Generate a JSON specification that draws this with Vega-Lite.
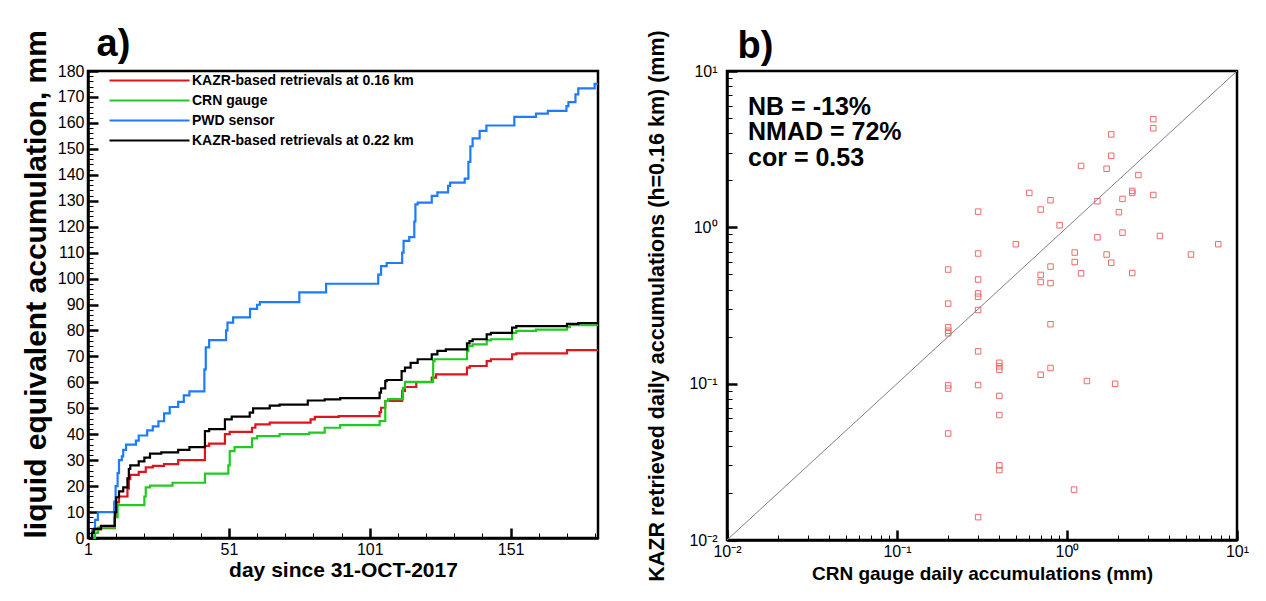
{
  "$schema": "https://vega.github.io/schema/vega-lite/v6.json",
  "background": "white",
  "padding": {"left": 20, "top": 23, "right": 20, "bottom": 5},
  "bounds": "flush",
  "spacing": 129,
  "config": {
    "font": "Liberation Sans",
    "view": {"stroke": "black", "strokeWidth": 2.5},
    "axis": {"domainColor": "black", "domainWidth": 2.5, "tickColor": "black", "grid": false, "labelColor": "black", "titleColor": "black", "labelFont": "Liberation Sans", "titleFont": "Liberation Sans", "labelFontSize": 16, "titleFontWeight": "bold", "labelFlush": false, "labelOverlap": false}
  },
  "hconcat": [
    {
      "width": 510,
      "height": 467,
      "data": {"values": [
        {"s": "KAZR-based retrievals at 0.16 km", "day": 1, "v": 0},
        {"s": "KAZR-based retrievals at 0.16 km", "day": 2.5, "v": 2},
        {"s": "KAZR-based retrievals at 0.16 km", "day": 3, "v": 3.3},
        {"s": "KAZR-based retrievals at 0.16 km", "day": 5.6, "v": 3.8},
        {"s": "KAZR-based retrievals at 0.16 km", "day": 10.5, "v": 8},
        {"s": "KAZR-based retrievals at 0.16 km", "day": 11, "v": 13.7},
        {"s": "KAZR-based retrievals at 0.16 km", "day": 12, "v": 16},
        {"s": "KAZR-based retrievals at 0.16 km", "day": 15, "v": 19},
        {"s": "KAZR-based retrievals at 0.16 km", "day": 15.5, "v": 22.7},
        {"s": "KAZR-based retrievals at 0.16 km", "day": 16, "v": 24.3},
        {"s": "KAZR-based retrievals at 0.16 km", "day": 19, "v": 25.5},
        {"s": "KAZR-based retrievals at 0.16 km", "day": 21.5, "v": 27.2},
        {"s": "KAZR-based retrievals at 0.16 km", "day": 24, "v": 27.8},
        {"s": "KAZR-based retrievals at 0.16 km", "day": 28, "v": 28.5},
        {"s": "KAZR-based retrievals at 0.16 km", "day": 33, "v": 30},
        {"s": "KAZR-based retrievals at 0.16 km", "day": 42.5, "v": 35.5},
        {"s": "KAZR-based retrievals at 0.16 km", "day": 44, "v": 36.4},
        {"s": "KAZR-based retrievals at 0.16 km", "day": 49.6, "v": 40},
        {"s": "KAZR-based retrievals at 0.16 km", "day": 51.3, "v": 40.9},
        {"s": "KAZR-based retrievals at 0.16 km", "day": 59.2, "v": 42.5},
        {"s": "KAZR-based retrievals at 0.16 km", "day": 60.4, "v": 43.8},
        {"s": "KAZR-based retrievals at 0.16 km", "day": 65.5, "v": 44.5},
        {"s": "KAZR-based retrievals at 0.16 km", "day": 80, "v": 45.7},
        {"s": "KAZR-based retrievals at 0.16 km", "day": 81.5, "v": 46.7},
        {"s": "KAZR-based retrievals at 0.16 km", "day": 90, "v": 47},
        {"s": "KAZR-based retrievals at 0.16 km", "day": 104.5, "v": 48.5},
        {"s": "KAZR-based retrievals at 0.16 km", "day": 105, "v": 50.2},
        {"s": "KAZR-based retrievals at 0.16 km", "day": 106.5, "v": 52.8},
        {"s": "KAZR-based retrievals at 0.16 km", "day": 112.5, "v": 56.7},
        {"s": "KAZR-based retrievals at 0.16 km", "day": 113.5, "v": 58.2},
        {"s": "KAZR-based retrievals at 0.16 km", "day": 117.5, "v": 60.1},
        {"s": "KAZR-based retrievals at 0.16 km", "day": 123, "v": 61.8},
        {"s": "KAZR-based retrievals at 0.16 km", "day": 124.5, "v": 63.1},
        {"s": "KAZR-based retrievals at 0.16 km", "day": 135.5, "v": 65.7},
        {"s": "KAZR-based retrievals at 0.16 km", "day": 136.5, "v": 66.3},
        {"s": "KAZR-based retrievals at 0.16 km", "day": 142.5, "v": 68.2},
        {"s": "KAZR-based retrievals at 0.16 km", "day": 144, "v": 68.9},
        {"s": "KAZR-based retrievals at 0.16 km", "day": 151.5, "v": 70.8},
        {"s": "KAZR-based retrievals at 0.16 km", "day": 153, "v": 71.2},
        {"s": "KAZR-based retrievals at 0.16 km", "day": 171, "v": 72.4},
        {"s": "KAZR-based retrievals at 0.16 km", "day": 182, "v": 72.4},
        {"s": "CRN gauge", "day": 1, "v": 0},
        {"s": "CRN gauge", "day": 3.5, "v": 2},
        {"s": "CRN gauge", "day": 4.5, "v": 4},
        {"s": "CRN gauge", "day": 10.5, "v": 8},
        {"s": "CRN gauge", "day": 11.5, "v": 12.7},
        {"s": "CRN gauge", "day": 21, "v": 16},
        {"s": "CRN gauge", "day": 21.5, "v": 19.5},
        {"s": "CRN gauge", "day": 23, "v": 20.2},
        {"s": "CRN gauge", "day": 31, "v": 21.3},
        {"s": "CRN gauge", "day": 42.5, "v": 24.8},
        {"s": "CRN gauge", "day": 50.8, "v": 28},
        {"s": "CRN gauge", "day": 51.3, "v": 33.5},
        {"s": "CRN gauge", "day": 53, "v": 35},
        {"s": "CRN gauge", "day": 59.2, "v": 38.4},
        {"s": "CRN gauge", "day": 61, "v": 39.3},
        {"s": "CRN gauge", "day": 69, "v": 40},
        {"s": "CRN gauge", "day": 79.5, "v": 40.6},
        {"s": "CRN gauge", "day": 85, "v": 42.5},
        {"s": "CRN gauge", "day": 90.5, "v": 43.5},
        {"s": "CRN gauge", "day": 104.5, "v": 45.1},
        {"s": "CRN gauge", "day": 106.5, "v": 52.8},
        {"s": "CRN gauge", "day": 107.5, "v": 53.5},
        {"s": "CRN gauge", "day": 112.8, "v": 57.9},
        {"s": "CRN gauge", "day": 113.5, "v": 60.2},
        {"s": "CRN gauge", "day": 123.5, "v": 68.2},
        {"s": "CRN gauge", "day": 124, "v": 68.9},
        {"s": "CRN gauge", "day": 135.5, "v": 72},
        {"s": "CRN gauge", "day": 136, "v": 74},
        {"s": "CRN gauge", "day": 137.5, "v": 74.6},
        {"s": "CRN gauge", "day": 142.5, "v": 76.2},
        {"s": "CRN gauge", "day": 144, "v": 76.6},
        {"s": "CRN gauge", "day": 151.5, "v": 79.1},
        {"s": "CRN gauge", "day": 153, "v": 79.8},
        {"s": "CRN gauge", "day": 160, "v": 80.3},
        {"s": "CRN gauge", "day": 171, "v": 81.3},
        {"s": "CRN gauge", "day": 172, "v": 82},
        {"s": "CRN gauge", "day": 182, "v": 82},
        {"s": "PWD sensor", "day": 1, "v": 0},
        {"s": "PWD sensor", "day": 2.5, "v": 3},
        {"s": "PWD sensor", "day": 3.5, "v": 7},
        {"s": "PWD sensor", "day": 4.5, "v": 10},
        {"s": "PWD sensor", "day": 10.3, "v": 14},
        {"s": "PWD sensor", "day": 10.8, "v": 20},
        {"s": "PWD sensor", "day": 11.5, "v": 25},
        {"s": "PWD sensor", "day": 12, "v": 30},
        {"s": "PWD sensor", "day": 13, "v": 31.5},
        {"s": "PWD sensor", "day": 13.5, "v": 34},
        {"s": "PWD sensor", "day": 14.5, "v": 36},
        {"s": "PWD sensor", "day": 18, "v": 37.5},
        {"s": "PWD sensor", "day": 19, "v": 39.5},
        {"s": "PWD sensor", "day": 22, "v": 41.5},
        {"s": "PWD sensor", "day": 24, "v": 43},
        {"s": "PWD sensor", "day": 26, "v": 45},
        {"s": "PWD sensor", "day": 28, "v": 48},
        {"s": "PWD sensor", "day": 30, "v": 50.5},
        {"s": "PWD sensor", "day": 33, "v": 52.5},
        {"s": "PWD sensor", "day": 35, "v": 55},
        {"s": "PWD sensor", "day": 37, "v": 56.5},
        {"s": "PWD sensor", "day": 42.3, "v": 65},
        {"s": "PWD sensor", "day": 42.8, "v": 73.5},
        {"s": "PWD sensor", "day": 44, "v": 76.3},
        {"s": "PWD sensor", "day": 50, "v": 80},
        {"s": "PWD sensor", "day": 50.5, "v": 83},
        {"s": "PWD sensor", "day": 52.5, "v": 85},
        {"s": "PWD sensor", "day": 58.5, "v": 88.3},
        {"s": "PWD sensor", "day": 61, "v": 89.9},
        {"s": "PWD sensor", "day": 62, "v": 90.9},
        {"s": "PWD sensor", "day": 76, "v": 94.7},
        {"s": "PWD sensor", "day": 85.5, "v": 98},
        {"s": "PWD sensor", "day": 104, "v": 101.5},
        {"s": "PWD sensor", "day": 105, "v": 104.8},
        {"s": "PWD sensor", "day": 107, "v": 106},
        {"s": "PWD sensor", "day": 112.5, "v": 110},
        {"s": "PWD sensor", "day": 113, "v": 114.5},
        {"s": "PWD sensor", "day": 115, "v": 116},
        {"s": "PWD sensor", "day": 116.8, "v": 122},
        {"s": "PWD sensor", "day": 117.2, "v": 128.6},
        {"s": "PWD sensor", "day": 118, "v": 129.3},
        {"s": "PWD sensor", "day": 123, "v": 131.9},
        {"s": "PWD sensor", "day": 125, "v": 133.2},
        {"s": "PWD sensor", "day": 128.8, "v": 135.7},
        {"s": "PWD sensor", "day": 129.5, "v": 137},
        {"s": "PWD sensor", "day": 134.7, "v": 138.5},
        {"s": "PWD sensor", "day": 136, "v": 145},
        {"s": "PWD sensor", "day": 136.7, "v": 151},
        {"s": "PWD sensor", "day": 137.5, "v": 154},
        {"s": "PWD sensor", "day": 140, "v": 156.9},
        {"s": "PWD sensor", "day": 142.4, "v": 159},
        {"s": "PWD sensor", "day": 152.3, "v": 162.3},
        {"s": "PWD sensor", "day": 160, "v": 163.6},
        {"s": "PWD sensor", "day": 164.2, "v": 164.6},
        {"s": "PWD sensor", "day": 170.8, "v": 166.5},
        {"s": "PWD sensor", "day": 171.5, "v": 168},
        {"s": "PWD sensor", "day": 174, "v": 171},
        {"s": "PWD sensor", "day": 175, "v": 173.3},
        {"s": "PWD sensor", "day": 180.8, "v": 175},
        {"s": "PWD sensor", "day": 182, "v": 175},
        {"s": "KAZR-based retrievals at 0.22 km", "day": 1, "v": 0},
        {"s": "KAZR-based retrievals at 0.22 km", "day": 2.4, "v": 2},
        {"s": "KAZR-based retrievals at 0.22 km", "day": 3, "v": 3.5},
        {"s": "KAZR-based retrievals at 0.22 km", "day": 5.6, "v": 4.7},
        {"s": "KAZR-based retrievals at 0.22 km", "day": 10.5, "v": 10},
        {"s": "KAZR-based retrievals at 0.22 km", "day": 11, "v": 15.7},
        {"s": "KAZR-based retrievals at 0.22 km", "day": 12, "v": 18},
        {"s": "KAZR-based retrievals at 0.22 km", "day": 13.5, "v": 19.5},
        {"s": "KAZR-based retrievals at 0.22 km", "day": 15, "v": 23},
        {"s": "KAZR-based retrievals at 0.22 km", "day": 15.5, "v": 26.6},
        {"s": "KAZR-based retrievals at 0.22 km", "day": 16, "v": 28},
        {"s": "KAZR-based retrievals at 0.22 km", "day": 19, "v": 29.5},
        {"s": "KAZR-based retrievals at 0.22 km", "day": 21, "v": 31},
        {"s": "KAZR-based retrievals at 0.22 km", "day": 23, "v": 32.5},
        {"s": "KAZR-based retrievals at 0.22 km", "day": 27, "v": 33},
        {"s": "KAZR-based retrievals at 0.22 km", "day": 33, "v": 34},
        {"s": "KAZR-based retrievals at 0.22 km", "day": 37, "v": 35},
        {"s": "KAZR-based retrievals at 0.22 km", "day": 42.5, "v": 41.2},
        {"s": "KAZR-based retrievals at 0.22 km", "day": 44, "v": 42},
        {"s": "KAZR-based retrievals at 0.22 km", "day": 49.6, "v": 45.7},
        {"s": "KAZR-based retrievals at 0.22 km", "day": 52, "v": 46.8},
        {"s": "KAZR-based retrievals at 0.22 km", "day": 58.4, "v": 48.3},
        {"s": "KAZR-based retrievals at 0.22 km", "day": 59.6, "v": 50},
        {"s": "KAZR-based retrievals at 0.22 km", "day": 65.5, "v": 51},
        {"s": "KAZR-based retrievals at 0.22 km", "day": 69, "v": 51.4},
        {"s": "KAZR-based retrievals at 0.22 km", "day": 79, "v": 53},
        {"s": "KAZR-based retrievals at 0.22 km", "day": 85, "v": 53.4},
        {"s": "KAZR-based retrievals at 0.22 km", "day": 90.5, "v": 53.9},
        {"s": "KAZR-based retrievals at 0.22 km", "day": 104.5, "v": 56},
        {"s": "KAZR-based retrievals at 0.22 km", "day": 105, "v": 57.7},
        {"s": "KAZR-based retrievals at 0.22 km", "day": 106.5, "v": 60.5},
        {"s": "KAZR-based retrievals at 0.22 km", "day": 107, "v": 60.9},
        {"s": "KAZR-based retrievals at 0.22 km", "day": 112.3, "v": 64.3},
        {"s": "KAZR-based retrievals at 0.22 km", "day": 113.5, "v": 65.7},
        {"s": "KAZR-based retrievals at 0.22 km", "day": 115.5, "v": 67.5},
        {"s": "KAZR-based retrievals at 0.22 km", "day": 118, "v": 68.9},
        {"s": "KAZR-based retrievals at 0.22 km", "day": 123, "v": 70.8},
        {"s": "KAZR-based retrievals at 0.22 km", "day": 125, "v": 72.1},
        {"s": "KAZR-based retrievals at 0.22 km", "day": 128, "v": 72.7},
        {"s": "KAZR-based retrievals at 0.22 km", "day": 135.5, "v": 75},
        {"s": "KAZR-based retrievals at 0.22 km", "day": 136.4, "v": 75.9},
        {"s": "KAZR-based retrievals at 0.22 km", "day": 137.5, "v": 76.6},
        {"s": "KAZR-based retrievals at 0.22 km", "day": 142.5, "v": 78.5},
        {"s": "KAZR-based retrievals at 0.22 km", "day": 144, "v": 79.1},
        {"s": "KAZR-based retrievals at 0.22 km", "day": 151.5, "v": 81.1},
        {"s": "KAZR-based retrievals at 0.22 km", "day": 153, "v": 81.7},
        {"s": "KAZR-based retrievals at 0.22 km", "day": 171, "v": 82.5},
        {"s": "KAZR-based retrievals at 0.22 km", "day": 175, "v": 82.8},
        {"s": "KAZR-based retrievals at 0.22 km", "day": 182, "v": 82.8}
      ]},
      "layer": [
        {
          "mark": {"type": "line", "interpolate": "step-after", "strokeWidth": 2.2},
          "encoding": {
            "x": {"field": "day", "type": "quantitative", "scale": {"domain": [1, 182], "nice": false, "zero": false},
              "axis": {"orient": "bottom", "values": [1, 51, 101, 151], "tickSize": -10, "tickWidth": 2.5, "labelPadding": 13, "title": "day since 31-OCT-2017", "titleFontSize": 21, "titlePadding": 2}},
            "y": {"field": "v", "type": "quantitative", "scale": {"domain": [0, 180], "nice": false, "zero": false},
              "axis": {"orient": "left", "values": [0, 10, 20, 30, 40, 50, 60, 70, 80, 90, 100, 110, 120, 130, 140, 150, 160, 170, 180], "tickSize": -10, "tickWidth": 2.5, "labelPadding": 14, "title": "liquid equivalent accumulation, mm", "titleFontSize": 30, "titleAnchor": "start", "titlePadding": 6}},
            "color": {"field": "s", "type": "nominal",
              "scale": {"domain": ["KAZR-based retrievals at 0.16 km", "CRN gauge", "PWD sensor", "KAZR-based retrievals at 0.22 km"], "range": ["#e0151b", "#1fcb1f", "#1e7bff", "#000000"]},
              "legend": {"orient": "none", "legendX": 20, "legendY": 0, "padding": 0, "title": null, "symbolType": "M-1,0H9", "symbolSize": 256, "symbolStrokeWidth": 2.2, "labelFontSize": 14, "labelFontWeight": "bold", "labelColor": "black", "labelFont": "Liberation Sans", "rowPadding": 3, "labelOffset": 65, "labelLimit": 500}}
          }
        },
        {
          "mark": {"type": "point", "opacity": 0},
          "encoding": {
            "x": {"field": "day", "type": "quantitative", "scale": {"domain": [1, 182], "nice": false, "zero": false},
              "axis": {"orient": "bottom", "values": [11, 21, 31, 41, 61, 71, 81, 91, 111, 121, 131, 141, 161, 171, 181], "tickSize": -5, "tickWidth": 1, "labels": false, "domain": false, "title": null}},
            "y": {"field": "v", "type": "quantitative", "scale": {"domain": [0, 180], "nice": false, "zero": false},
              "axis": {"orient": "left", "values": [2,4,6,8,12,14,16,18,22,24,26,28,32,34,36,38,42,44,46,48,52,54,56,58,62,64,66,68,72,74,76,78,82,84,86,88,92,94,96,98,102,104,106,108,112,114,116,118,122,124,126,128,132,134,136,138,142,144,146,148,152,154,156,158,162,164,166,168,172,174,176,178], "tickSize": -5, "tickWidth": 1, "labels": false, "domain": false, "title": null}}
          }
        },
        {
          "mark": {"type": "point", "opacity": 0},
          "encoding": {
            "x": {"field": "day", "type": "quantitative", "scale": {"domain": [1, 182], "nice": false, "zero": false},
              "axis": {"orient": "top", "ticks": false, "labels": false, "domain": false, "title": "a)", "titleFontSize": 38, "titleAnchor": "start", "titleAlign": "left", "titleBaseline": "alphabetic", "titleX": 8, "titleY": -16}},
            "y": {"field": "v", "type": "quantitative", "scale": {"domain": [0, 180], "nice": false, "zero": false}, "axis": null}
          }
        }
      ],
      "resolve": {"axis": {"x": "independent", "y": "independent"}}
    },
    {
      "width": 510,
      "height": 469,
      "layer": [
        {
          "data": {"values": [
            {"crn": 3.22, "kazr": 4.92}, {"crn": 3.22, "kazr": 4.30}, {"crn": 1.82, "kazr": 3.93}, {"crn": 1.82, "kazr": 2.87},
            {"crn": 1.21, "kazr": 2.47}, {"crn": 1.71, "kazr": 2.37}, {"crn": 2.63, "kazr": 2.16}, {"crn": 2.42, "kazr": 1.71},
            {"crn": 2.42, "kazr": 1.66}, {"crn": 3.22, "kazr": 1.61}, {"crn": 0.60, "kazr": 1.66}, {"crn": 0.80, "kazr": 1.49},
            {"crn": 1.51, "kazr": 1.47}, {"crn": 2.12, "kazr": 1.52}, {"crn": 0.70, "kazr": 1.30}, {"crn": 2.02, "kazr": 1.25},
            {"crn": 0.30, "kazr": 1.26}, {"crn": 0.905, "kazr": 1.03}, {"crn": 0.50, "kazr": 0.78}, {"crn": 1.51, "kazr": 0.863},
            {"crn": 2.12, "kazr": 0.925}, {"crn": 3.52, "kazr": 0.88}, {"crn": 7.76, "kazr": 0.78}, {"crn": 5.36, "kazr": 0.67},
            {"crn": 1.11, "kazr": 0.69}, {"crn": 1.11, "kazr": 0.60}, {"crn": 1.71, "kazr": 0.67}, {"crn": 1.82, "kazr": 0.594},
            {"crn": 1.21, "kazr": 0.508}, {"crn": 2.42, "kazr": 0.51}, {"crn": 0.80, "kazr": 0.561}, {"crn": 0.70, "kazr": 0.496},
            {"crn": 0.70, "kazr": 0.447}, {"crn": 0.80, "kazr": 0.44}, {"crn": 0.30, "kazr": 0.68}, {"crn": 0.30, "kazr": 0.464},
            {"crn": 0.30, "kazr": 0.378}, {"crn": 0.30, "kazr": 0.36}, {"crn": 0.30, "kazr": 0.296}, {"crn": 0.20, "kazr": 0.537},
            {"crn": 0.20, "kazr": 0.325}, {"crn": 0.20, "kazr": 0.23}, {"crn": 0.20, "kazr": 0.218}, {"crn": 0.20, "kazr": 0.21},
            {"crn": 0.30, "kazr": 0.161}, {"crn": 0.20, "kazr": 0.0975}, {"crn": 0.20, "kazr": 0.093}, {"crn": 0.30, "kazr": 0.098},
            {"crn": 0.20, "kazr": 0.048}, {"crn": 0.30, "kazr": 0.014}, {"crn": 0.80, "kazr": 0.24}, {"crn": 0.40, "kazr": 0.136},
            {"crn": 0.40, "kazr": 0.129}, {"crn": 0.40, "kazr": 0.123}, {"crn": 0.80, "kazr": 0.126}, {"crn": 0.70, "kazr": 0.114},
            {"crn": 1.31, "kazr": 0.104}, {"crn": 1.92, "kazr": 0.0998}, {"crn": 0.40, "kazr": 0.0835}, {"crn": 0.40, "kazr": 0.063},
            {"crn": 0.40, "kazr": 0.030}, {"crn": 0.40, "kazr": 0.028}, {"crn": 1.10, "kazr": 0.021}
          ]},
          "mark": {"type": "square", "filled": false, "size": 30, "strokeWidth": 1, "color": "#ee6a6a", "opacity": 1},
          "encoding": {
            "x": {"field": "crn", "type": "quantitative", "scale": {"type": "log", "domain": [0.01, 10], "nice": false},
              "axis": {"orient": "bottom", "values": [0.01, 0.1, 1, 10], "labelExpr": "datum.value < 0.05 ? '10⁻²' : datum.value < 0.5 ? '10⁻¹' : datum.value < 5 ? '10⁰' : '10¹'", "tickSize": -10, "tickWidth": 2.5, "labelPadding": 13, "title": "CRN gauge daily accumulations (mm)", "titleFontSize": 19, "titlePadding": 5}},
            "y": {"field": "kazr", "type": "quantitative", "scale": {"type": "log", "domain": [0.01, 10], "nice": false},
              "axis": {"orient": "left", "values": [0.01, 0.1, 1, 10], "labelExpr": "datum.value < 0.05 ? '10⁻²' : datum.value < 0.5 ? '10⁻¹' : datum.value < 5 ? '10⁰' : '10¹'", "tickSize": -10, "tickWidth": 2.5, "labelPadding": 20, "title": "KAZR retrieved daily accumulations (h=0.16 km) (mm)", "titleFontSize": 21.5, "titlePadding": 20}}
          }
        },
        {
          "data": {"values": [{"crn": 0.01, "kazr": 0.01}, {"crn": 10, "kazr": 10}]},
          "mark": {"type": "line", "color": "#808080", "strokeWidth": 1},
          "encoding": {
            "x": {"field": "crn", "type": "quantitative", "scale": {"type": "log", "domain": [0.01, 10], "nice": false},
              "axis": {"orient": "bottom", "values": [0.02,0.03,0.04,0.05,0.06,0.07,0.08,0.09,0.2,0.3,0.4,0.5,0.6,0.7,0.8,0.9,2,3,4,5,6,7,8,9], "tickSize": -5, "tickWidth": 1, "labels": false, "domain": false, "title": null}},
            "y": {"field": "kazr", "type": "quantitative", "scale": {"type": "log", "domain": [0.01, 10], "nice": false},
              "axis": {"orient": "left", "values": [0.02,0.03,0.04,0.05,0.06,0.07,0.08,0.09,0.2,0.3,0.4,0.5,0.6,0.7,0.8,0.9,2,3,4,5,6,7,8,9], "tickSize": -5, "tickWidth": 1, "labels": false, "domain": false, "title": null}}
          }
        },
        {
          "data": {"values": [
            {"label": "NB = -13%", "crn": 0.0133, "kazr": 5.24},
            {"label": "NMAD = 72%", "crn": 0.0133, "kazr": 3.60},
            {"label": "cor = 0.53", "crn": 0.0133, "kazr": 2.47}
          ]},
          "mark": {"type": "text", "align": "left", "baseline": "alphabetic", "fontSize": 25, "fontWeight": "bold", "color": "black", "font": "Liberation Sans"},
          "encoding": {
            "x": {"field": "crn", "type": "quantitative", "scale": {"type": "log", "domain": [0.01, 10], "nice": false},
              "axis": {"orient": "top", "ticks": false, "labels": false, "domain": false, "title": "b)", "titleFontSize": 38, "titleAnchor": "start", "titleAlign": "left", "titleBaseline": "alphabetic", "titleX": 10, "titleY": -14}},
            "y": {"field": "kazr", "type": "quantitative", "scale": {"type": "log", "domain": [0.01, 10], "nice": false}, "axis": null},
            "text": {"field": "label"}
          }
        }
      ],
      "resolve": {"axis": {"x": "independent", "y": "independent"}}
    }
  ]
}
